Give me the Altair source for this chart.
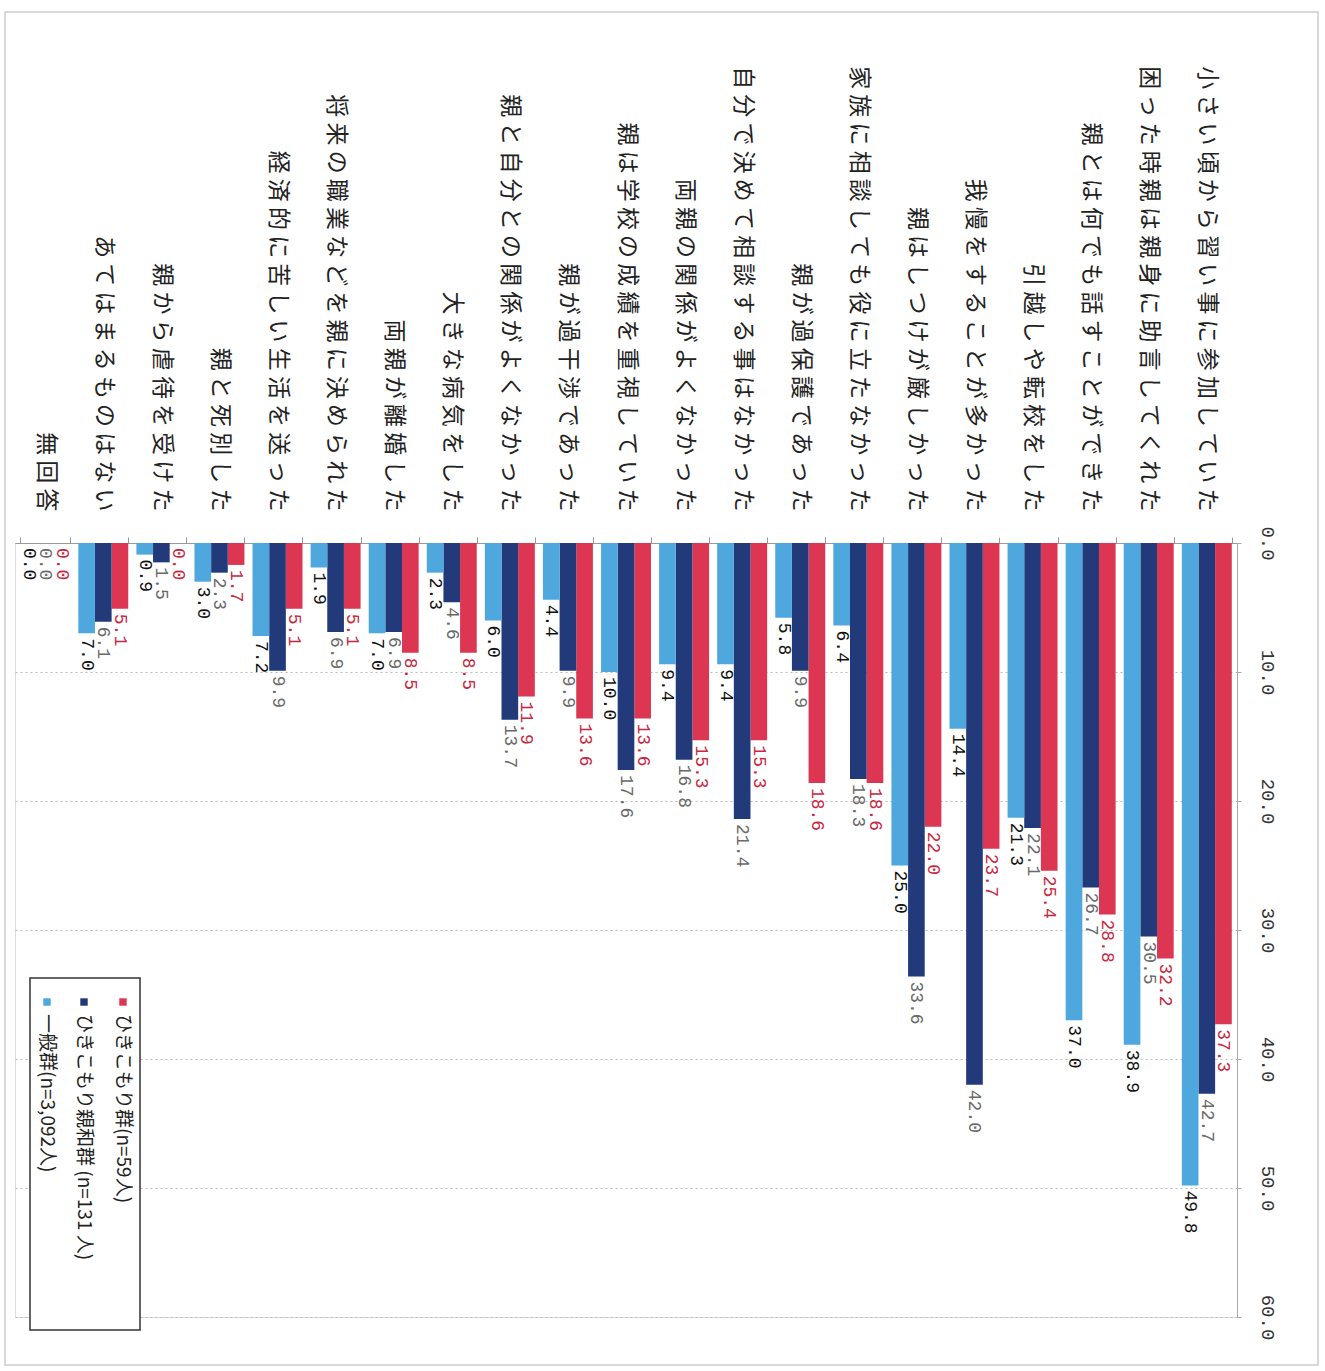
import altair as alt
import pandas as pd

# Survey items (upper to lower in the source table)
categories = [
    "小さい頃から習い事に参加していた",
    "困った時親は親身に助言してくれた",
    "親とは何でも話すことができた",
    "引越しや転校をした",
    "我慢をすることが多かった",
    "親はしつけが厳しかった",
    "家族に相談しても役に立たなかった",
    "親が過保護であった",
    "自分で決めて相談する事はなかった",
    "両親の関係がよくなかった",
    "親は学校の成績を重視していた",
    "親が過干渉であった",
    "親と自分との関係がよくなかった",
    "大きな病気をした",
    "両親が離婚した",
    "将来の職業などを親に決められた",
    "経済的に苦しい生活を送った",
    "親と死別した",
    "親から虐待を受けた",
    "あてはまるものはない",
    "無回答",
]

series = ["ひきこもり群(n=59人)", "ひきこもり親和群 (n=131 人)", "一般群(n=3,092人)"]

hikikomori = [37.3, 32.2, 28.8, 25.4, 23.7, 22.0, 18.6, 18.6, 15.3, 15.3, 13.6,
              13.6, 11.9, 8.5, 8.5, 5.1, 5.1, 1.7, 0.0, 5.1, 0.0]
shinwa = [42.7, 30.5, 26.7, 22.1, 42.0, 33.6, 18.3, 9.9, 21.4, 16.8, 17.6,
          9.9, 13.7, 4.6, 6.9, 6.9, 9.9, 2.3, 1.5, 6.1, 0.0]
ippan = [49.8, 38.9, 37.0, 21.3, 14.4, 25.0, 6.4, 5.8, 9.4, 9.4, 10.0,
         4.4, 6.0, 2.3, 7.0, 1.9, 7.2, 3.0, 0.9, 7.0, 0.0]

value_ticks = [0, 10, 20, 30, 40, 50, 60]

bar_colors = ["#dc3652", "#22397a", "#4ea8de"]
label_colors = ["#c8283f", "#6a6a6a", "#111111"]

rows = []
for name, vals in zip(series, [hikikomori, shinwa, ippan]):
    for cat, v in zip(categories, vals):
        rows.append({"item": cat, "group": name, "pct": v})
df = pd.DataFrame(rows)

# plot-area size (the whole page is 1325 x 1371)
W, H = 1222, 774
PAD = {"left": 15, "top": 543, "right": 88, "bottom": 54}

x_enc = alt.X(
    "item:N",
    sort=categories[::-1],
    scale=alt.Scale(paddingInner=0.14, paddingOuter=0.09),
    axis=alt.Axis(
        orient="top",
        title=None,
        labelAngle=90,
        labelAlign="right",
        labelBaseline="middle",
        labelPadding=26,
        labelFont="Noto Sans CJK JP",
        labelFontSize=23,
        labelColor="#222222",
        labelLimit=700,
        labelOverlap=False,
        labelExpr="join(split(datum.label, ''), ' ')",
        tickBand="extent",
        tickSize=6,
        tickColor="#999999",
        domainColor="#999999",
    ),
)
xoff_enc = alt.XOffset("group:N", sort=series[::-1],
                       scale=alt.Scale(paddingInner=0, paddingOuter=0))
y_enc = alt.Y(
    "pct:Q",
    scale=alt.Scale(domain=[0, 60], reverse=True, nice=False),
    axis=alt.Axis(
        orient="right",
        title=None,
        values=value_ticks,
        format=".1f",
        labelAngle=90,
        labelAlign="center",
        labelBaseline="bottom",
        labelPadding=16,
        labelFont="Liberation Mono",
        labelFontSize=19,
        labelColor="#333333",
        grid=True,
        gridDash=[2, 3],
        gridColor="#bbbbbb",
        domainColor="#aaaaaa",
        tickColor="#aaaaaa",
        tickSize=4,
    ),
)

bars = alt.Chart(df).mark_bar().encode(
    x=x_enc,
    xOffset=xoff_enc,
    y=y_enc,
    color=alt.Color("group:N", scale=alt.Scale(domain=series, range=bar_colors), legend=None),
)

labels = alt.Chart(df).mark_text(
    angle=90, align="left", baseline="middle", dx=5,
    font="Liberation Mono", fontSize=18,
).encode(
    x=alt.X("item:N", sort=categories[::-1]),
    xOffset=alt.XOffset("group:N", sort=series[::-1]),
    y=alt.Y("pct:Q"),
    text=alt.Text("pct:Q", format=".1f"),
    color=alt.Color("group:N", scale=alt.Scale(domain=series, range=label_colors), legend=None),
)

one = alt.Data(values=[{"k": 0}])

# outer frame of the figure
frame = alt.Chart(one).mark_rect(fillOpacity=0, stroke="#cccccc", strokeWidth=1.5).encode(
    x=alt.value(-10), x2=alt.value(1303), y=alt.value(-531), y2=alt.value(822)
)

# legend box, drawn rotated like the rest of the figure
box_left, box_right, box_top, box_bottom = 15, 125, 435, 787
legend_layers = [
    alt.Chart(one).mark_rect(fill="white", stroke="#333333", strokeWidth=1.5).encode(
        x=alt.value(box_left), x2=alt.value(box_right),
        y=alt.value(box_top), y2=alt.value(box_bottom),
    )
]
entry_x = [108, 69, 32]
for name, col, ex in zip(series, bar_colors, entry_x):
    legend_layers.append(
        alt.Chart(one).mark_square(size=55, opacity=1).encode(
            x=alt.value(ex), y=alt.value(box_top + 24), color=alt.value(col)
        )
    )
    legend_layers.append(
        alt.Chart(one).mark_text(
            angle=90, align="left", baseline="middle",
            font="Noto Sans CJK JP", fontSize=19, color="#222222", text=name,
        ).encode(x=alt.value(ex), y=alt.value(box_top + 36))
    )

chart = alt.layer(frame, bars, labels, *legend_layers).resolve_scale(
    color="independent"
).properties(
    width=W, height=H,
    autosize=alt.AutoSizeParams(type="none"),
    padding=PAD,
).configure_view(stroke=None).configure(background="white")

chart.save("out.html", embed_options={"renderer": "svg", "actions": False})
